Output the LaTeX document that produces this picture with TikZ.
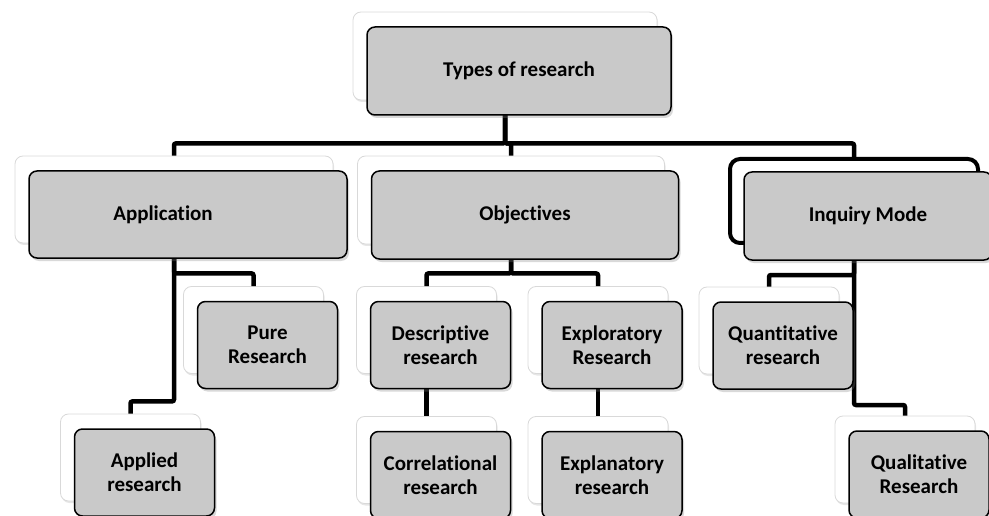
\documentclass[tikz,border=0pt]{standalone}
\usepackage{fontspec}
\setmainfont[Ligatures=CommonOff,RawFeature={-liga;-calt;-clig}]{Carlito}
\usetikzlibrary{calc,shadows}
\definecolor{boxgray}{RGB}{201,201,201}

\tikzset{
  back/.style={rectangle,rounded corners=8pt,fill=white,draw=black!15,line width=.8pt,
    drop shadow={shadow xshift=1pt,shadow yshift=-2pt,opacity=.2},
    minimum width=140pt,minimum height=87pt,inner sep=0pt},
  front/.style={rectangle,rounded corners=8pt,fill=boxgray,draw=black,line width=1.5pt,
    drop shadow={shadow xshift=2pt,shadow yshift=-3pt,opacity=.3},
    minimum width=140pt,minimum height=87pt,inner sep=0pt,align=center,
    font=\fontsize{21}{24}\selectfont\bfseries},
  lbl/.style={inner sep=0pt,font=\fontsize{21}{24}\selectfont\bfseries},
  conn/.style={line width=4.5pt,rounded corners=2pt}
}

\begin{document}
\begin{tikzpicture}[x=1pt,y=-1pt]
\useasboundingbox (0,0) rectangle (989,516);
% back boxes
\node[back,minimum width=304pt,minimum height=88pt] (tb) at (505,56) {};
\node[back,minimum width=318pt] (appb) at (174,199.5) {};
\node[back,minimum width=307pt,minimum height=88pt] (objb) at (511,200) {};
\node[back,draw=black,line width=4pt,rounded corners=10pt,minimum width=248pt,minimum height=84pt] (inqb) at (854,201) {};
\node[back] (pureb) at (253.5,330) {};
\node[back] (applb) at (130.5,457.5) {};
\node[back] (descb) at (426.5,330) {};
\node[back] (explb) at (598,330) {};
\node[back] (corrb) at (426.5,460) {};
\node[back] (expnb) at (598,460) {};
\node[back] (quanb) at (769,330.5) {};
\node[back] (qualb) at (905,459.5) {};
% connectors
\draw[conn] (tb.south) -- ++(0,43) -| (appb.north);
\draw[conn] (tb.south) -- ++(0,43) -| (objb.north);
\draw[conn] (tb.south) -- ++(0,43) -| (inqb.north);
\draw[conn] (appb.south) -- ++(0,30) -| (pureb.north);
\draw[conn] (appb.south) -- ++(0,158) -| (applb.north);
\draw[conn] (objb.south) -- ++(0,29) -| (descb.north);
\draw[conn] (objb.south) -- ++(0,29) -| (explb.north);
\draw[conn] (descb.south) -- (corrb.north);
\draw[conn] (explb.south) -- (expnb.north);
\draw[conn] (inqb.south) -- ++(0,30) -| (quanb.north);
\draw[conn] (inqb.south) -- ++(0,160) -| (qualb.north);
% front boxes
\node[front,minimum width=304pt,minimum height=88pt] (t) at ($(tb)+(14,15)$) {Types of research};
\node[front,minimum width=318pt] (app) at ($(appb)+(14,15)$) {};
\node[lbl] (appt) at ($(app)+(-25,0)$) {Application};
\node[front,minimum width=307pt,minimum height=88pt] (obj) at ($(objb)+(14,15)$) {Objectives};
\node[front,minimum width=248pt,minimum height=88pt] (inq) at ($(inqb)+(14,15)$) {Inquiry Mode};
\node[front] (pure) at ($(pureb)+(14,15)$) {Pure\\Research};
\node[front] (appl) at ($(applb)+(14,15)$) {Applied\\research};
\node[front] (desc) at ($(descb)+(14,15)$) {Descriptive\\research};
\node[front] (expl) at ($(explb)+(14,15)$) {Exploratory\\Research};
\node[front] (corr) at ($(corrb)+(14,15)$) {Correlational\\research};
\node[front] (expn) at ($(expnb)+(14,15)$) {Explanatory\\research};
\node[front] (quan) at ($(quanb)+(14,15)$) {Quantitative\\research};
\node[front] (qual) at ($(qualb)+(14,15)$) {Qualitative\\Research};
\end{tikzpicture}
\end{document}
